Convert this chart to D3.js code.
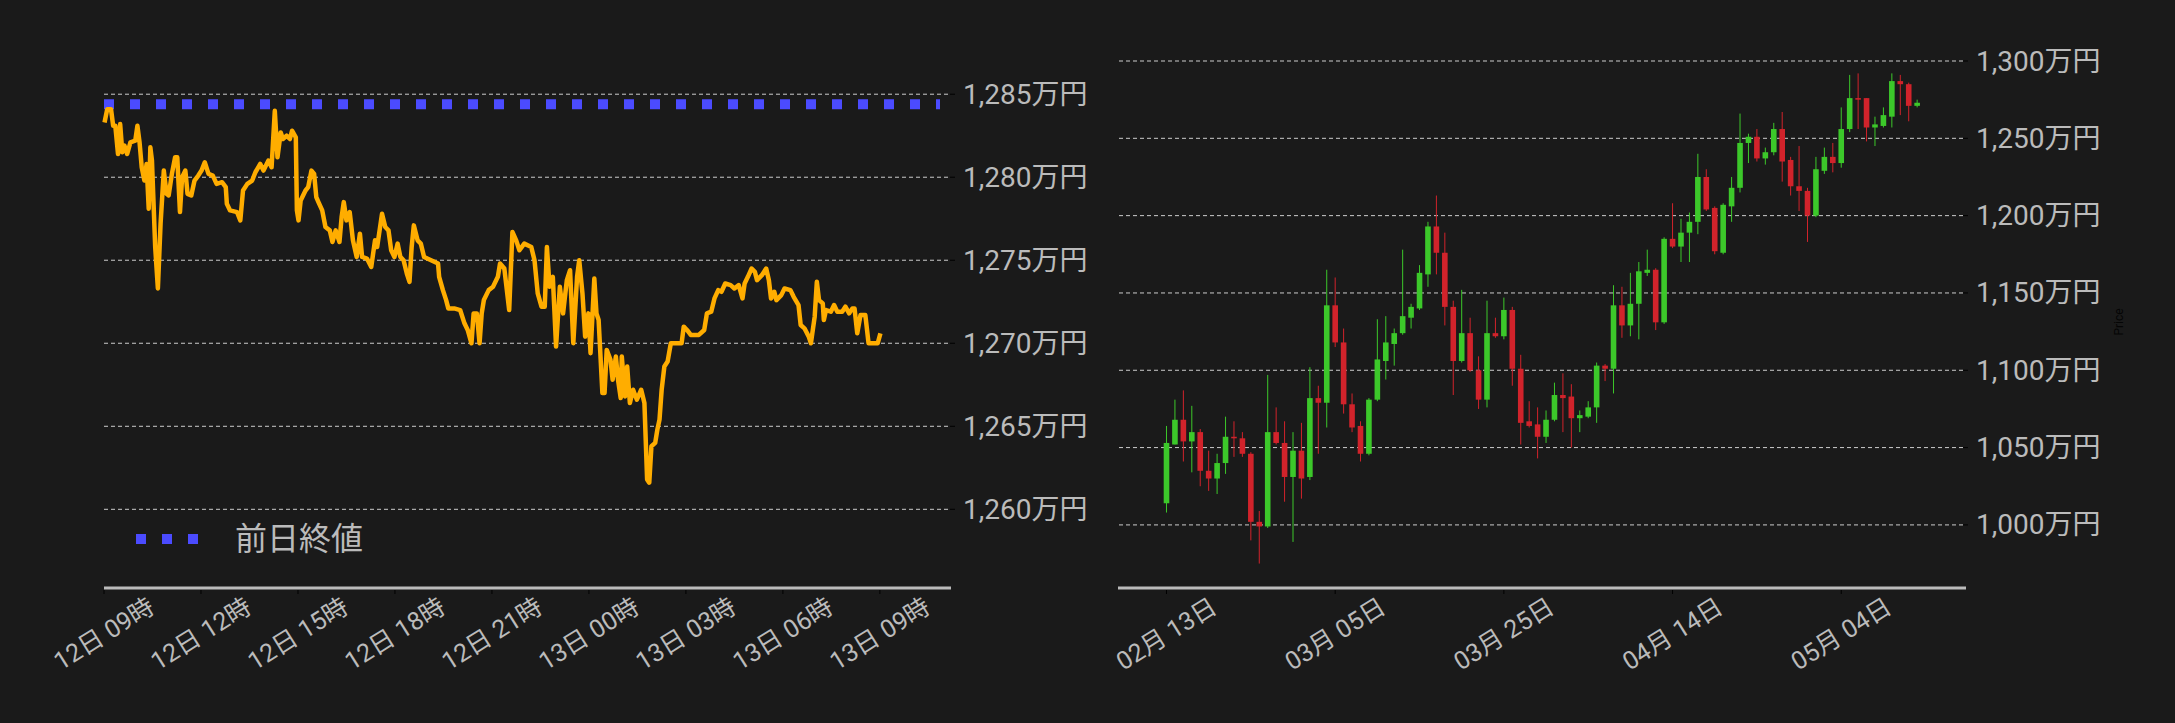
<!DOCTYPE html>
<html>
<head>
<meta charset="utf-8">
<script src="https://cdn.jsdelivr.net/npm/d3@7"></script>
<style>
  body { margin: 0; background: #1a1a1a; }
  svg { display: block; }
  text { font-family: Roboto, "Noto Sans CJK JP", sans-serif; fill: #bbbbbb; }
</style>
</head>
<body>
<svg id="chart" width="2175" height="723"></svg>
<script>
// intraday price (minutes after 12日 09:00, 万円)
var lineMinutes = [1,6,13,17,21,26,30,34,38,43,49,58,62,66,70,75,79,83,86,89,95,100,105,111,116,120,126,132,136,141,145,151,155,162,168,175,181,187,194,202,209,219,226,228,234,247,253,258,266,275,281,290,296,305,311,317,322,328,332,339,345,349,356,358,361,365,374,379,385,390,394,398,405,411,419,424,430,437,441,445,450,456,462,469,475,479,488,496,503,507,516,522,528,533,539,545,550,556,562,567,571,575,582,588,594,607,620,622,629,635,639,650,661,669,675,682,686,692,697,701,705,714,722,731,735,743,752,758,765,771,780,793,799,805,812,818,822,827,833,839,846,852,859,865,871,878,882,888,893,899,903,910,914,918,925,929,933,940,944,950,954,959,961,967,971,976,982,989,997,1003,1008,1012,1016,1023,1027,1031,1035,1040,1046,1052,1072,1076,1082,1089,1104,1114,1119,1127,1133,1140,1146,1153,1163,1170,1178,1185,1189,1195,1202,1208,1212,1221,1229,1234,1238,1244,1248,1257,1263,1274,1280,1289,1293,1300,1308,1312,1319,1323,1327,1334,1336,1340,1349,1355,1361,1370,1376,1383,1389,1393,1398,1404,1413,1419,1436,1441];
var linePrices = [1283.3,1284.1,1284.1,1283.1,1283.1,1281.4,1283.2,1281.5,1281.9,1281.4,1282.1,1282.2,1283.1,1282.1,1280.6,1279.8,1280.8,1278.1,1281.8,1281.0,1275.8,1273.3,1277.2,1280.4,1279.0,1278.9,1280.2,1281.2,1281.2,1277.9,1280.0,1280.4,1279.0,1278.9,1279.8,1280.1,1280.4,1280.9,1280.2,1280.1,1279.6,1279.7,1279.4,1278.4,1278.0,1277.9,1277.4,1279.2,1279.6,1279.8,1280.3,1280.8,1280.4,1281.0,1280.6,1284.0,1281.2,1282.7,1282.3,1282.5,1282.3,1282.8,1282.4,1278.0,1277.4,1278.6,1279.2,1279.4,1280.4,1280.2,1278.8,1278.5,1278.0,1277.0,1276.8,1276.1,1276.8,1276.1,1277.6,1278.5,1277.4,1277.9,1276.2,1275.2,1276.6,1275.2,1275.1,1274.6,1276.2,1275.8,1277.8,1277.0,1276.8,1275.6,1275.2,1276.0,1275.2,1275.0,1274.2,1273.7,1275.8,1277.1,1276.2,1276.0,1275.2,1275.0,1274.8,1274.0,1273.2,1272.6,1272.1,1272.1,1272.0,1271.2,1270.8,1270.0,1271.8,1271.8,1270.0,1271.8,1272.6,1273.2,1273.4,1274.0,1274.8,1274.5,1272.0,1276.7,1276.2,1275.6,1276.0,1275.8,1275.0,1273.0,1272.2,1272.2,1275.8,1273.4,1274.0,1269.8,1273.4,1271.8,1273.8,1274.4,1270.0,1274.0,1275.0,1273.0,1270.4,1271.8,1269.4,1273.9,1271.8,1271.4,1267.0,1267.0,1269.6,1269.0,1267.8,1269.2,1267.8,1266.7,1269.2,1266.8,1268.6,1266.4,1267.2,1266.6,1267.2,1266.4,1261.8,1261.6,1263.8,1264.0,1264.8,1265.4,1267.2,1268.6,1268.9,1270.0,1270.0,1271.0,1270.8,1270.5,1270.5,1270.8,1271.8,1271.9,1272.7,1273.2,1273.1,1273.6,1273.5,1273.3,1273.5,1272.7,1273.6,1274.0,1274.5,1274.3,1273.8,1274.1,1274.5,1273.8,1272.7,1273.1,1272.6,1272.9,1273.3,1273.2,1272.8,1272.3,1271.1,1270.9,1270.4,1270.0,1271.6,1273.7,1272.6,1272.4,1271.4,1272.0,1271.9,1272.3,1271.9,1271.9,1272.2,1271.8,1272.1,1272.1,1270.6,1271.7,1271.7,1270.0,1270.0,1270.6];
var prevClose = 1284.4;
var lineTicks = [1260, 1265, 1270, 1275, 1280, 1285];

// daily candles from 2025-02-13 (万円)
var candleOpen  = [1014,1052,1068,1054,1060,1035,1030,1040,1057,1056,1046,1002,999,1060,1053,1031,1048,1031,1082,1079,1142,1118,1078,1064,1046,1081,1106,1117,1124,1134,1140,1162,1193,1176,1141,1106,1124,1100,1081,1124,1122,1139,1101,1067,1065,1057,1068,1084,1083,1069,1070,1076,1103,1101,1142,1129,1143,1163,1165,1131,1185,1180,1189,1196,1225,1205,1176,1206,1218,1247,1251,1237,1241,1256,1236,1219,1216,1200,1229,1238,1234,1256,1276,1276,1257,1258,1264,1287,1285,1271];
var candleHigh  = [1064,1081,1087,1077,1062,1048,1046,1070,1067,1060,1047,1009,1097,1076,1067,1060,1066,1102,1090,1165,1160,1127,1085,1067,1082,1133,1135,1127,1178,1143,1168,1196,1213,1189,1145,1152,1134,1109,1145,1134,1147,1141,1110,1080,1076,1074,1092,1098,1091,1074,1080,1105,1104,1155,1154,1163,1170,1178,1166,1186,1208,1198,1202,1240,1230,1206,1208,1225,1266,1253,1256,1244,1260,1267,1238,1245,1218,1238,1244,1247,1270,1291,1292,1276,1264,1270,1292,1291,1286,1275];
var candleLow   = [1008,1052,1041,1034,1025,1022,1020,1033,1044,1044,990,975,998,1052,1015,989,1017,1029,1046,1063,1115,1072,1060,1041,1045,1080,1094,1103,1123,1127,1139,1154,1162,1129,1084,1105,1099,1075,1076,1121,1120,1090,1052,1063,1043,1053,1067,1060,1050,1060,1069,1066,1093,1085,1121,1122,1120,1161,1126,1130,1179,1170,1170,1188,1203,1175,1175,1196,1215,1234,1235,1233,1239,1222,1213,1203,1183,1199,1227,1228,1231,1254,1256,1248,1245,1257,1257,1265,1261,1270];
var candleClose = [1053,1068,1054,1060,1035,1030,1040,1057,1056,1046,1002,999,1060,1053,1031,1048,1030,1082,1079,1142,1118,1078,1063,1046,1081,1107,1118,1124,1135,1141,1163,1193,1176,1141,1106,1124,1100,1081,1124,1122,1139,1101,1066,1064,1057,1068,1084,1082,1069,1071,1076,1103,1101,1142,1129,1143,1164,1165,1131,1185,1180,1189,1196,1225,1204,1177,1207,1218,1247,1251,1237,1241,1256,1235,1219,1216,1200,1230,1238,1234,1256,1276,1275,1257,1259,1265,1287,1285,1271,1273];
var candleTicks = [1000, 1050, 1100, 1150, 1200, 1250, 1300];
var dateTicks = ['2025-02-13', '2025-03-05', '2025-03-25', '2025-04-14', '2025-05-04'];

var svg = d3.select('#chart');
var yen = function(v) { return d3.format(',')(v) + '万円'; };

function drawGrid(g, y, ticks, x0, x1) {
  ticks.forEach(function(t) {
    g.append('line')
      .attr('x1', x0).attr('x2', x1)
      .attr('y1', y(t)).attr('y2', y(t))
      .attr('stroke', '#cccccc').attr('stroke-width', 1)
      .attr('stroke-dasharray', '4,3');
    g.append('line')
      .attr('x1', x1).attr('x2', x1 + 5)
      .attr('y1', y(t)).attr('y2', y(t))
      .attr('stroke', '#000');
    g.append('text')
      .attr('x', x1 + 13).attr('y', y(t))
      .attr('dominant-baseline', 'central')
      .style('font-size', '28px')
      .text(yen(t));
  });
}

function drawXAxis(g, x, ticks, fmt, x0, x1) {
  g.append('line')
    .attr('x1', x0).attr('x2', x1)
    .attr('y1', 588).attr('y2', 588)
    .attr('stroke', '#bbbbbb').attr('stroke-width', 3);
  ticks.forEach(function(t) {
    var tx = x(t);
    g.append('line')
      .attr('x1', tx).attr('x2', tx)
      .attr('y1', 590).attr('y2', 594)
      .attr('stroke', '#000');
    g.append('text')
      .attr('transform', 'translate(' + tx + ',634) rotate(-32)')
      .attr('text-anchor', 'middle')
      .attr('dominant-baseline', 'central')
      .style('font-size', '25px')
      .text(fmt(t));
  });
}

//
// left: intraday line
//
var start = new Date(2025, 4, 12, 9, 0);
var xl = d3.scaleTime()
  .domain([start, d3.timeMinute.offset(start, 1572)])
  .range([104, 951]);
var yl = d3.scaleLinear().domain([1255.2, 1287.0]).range([589, 61]);

var left = svg.append('g');
drawGrid(left, yl, lineTicks, 104, 950);

left.append('line')
  .attr('x1', 104).attr('x2', 940)
  .attr('y1', yl(prevClose)).attr('y2', yl(prevClose))
  .attr('stroke', '#4b4bff').attr('stroke-width', 10)
  .attr('stroke-dasharray', '10,16');

var pts = lineMinutes.map(function(m, i) {
  return [d3.timeMinute.offset(start, m), linePrices[i]];
});
left.append('path')
  .datum(pts)
  .attr('fill', 'none')
  .attr('stroke', '#ffad00')
  .attr('stroke-width', 4.5)
  .attr('stroke-linejoin', 'round')
  .attr('d', d3.line().x(function(d) { return xl(d[0]); }).y(function(d) { return yl(d[1]); }));

var hourTicks = d3.range(0, 9).map(function(i) { return d3.timeHour.offset(start, i * 3); });
drawXAxis(left, xl, hourTicks, d3.timeFormat('%d日 %H時'), 104, 951);

left.append('line')
  .attr('x1', 136).attr('x2', 200)
  .attr('y1', 539).attr('y2', 539)
  .attr('stroke', '#4b4bff').attr('stroke-width', 10)
  .attr('stroke-dasharray', '10,16');
left.append('text')
  .attr('x', 235).attr('y', 539)
  .attr('dominant-baseline', 'central')
  .style('font-size', '32px')
  .text('前日終値');

//
// right: daily candles
//
var parse = d3.timeParse('%Y-%m-%d');
var first = parse('2025-02-13');
var xr = d3.scaleTime()
  .domain([d3.timeHour.offset(first, -138), d3.timeHour.offset(first, 2275)])
  .range([1118, 1966]);
var yr = d3.scaleLinear().domain([959.2, 1300]).range([588, 61]);

var right = svg.append('g');
drawGrid(right, yr, candleTicks, 1119, 1963);

var candles = candleOpen.map(function(o, i) {
  return { date: d3.timeDay.offset(first, i), o: o, h: candleHigh[i], l: candleLow[i], c: candleClose[i] };
});
var cg = right.selectAll('g.candle').data(candles).enter().append('g');
cg.append('line')
  .attr('x1', function(d) { return xr(d.date); })
  .attr('x2', function(d) { return xr(d.date); })
  .attr('y1', function(d) { return yr(d.h); })
  .attr('y2', function(d) { return yr(d.l); })
  .attr('stroke', function(d) { return d.c >= d.o ? '#3cc82a' : '#d1232b'; })
  .attr('stroke-width', 1);
cg.append('rect')
  .attr('x', function(d) { return xr(d.date) - 2.8; })
  .attr('width', 5.6)
  .attr('y', function(d) { return yr(Math.max(d.o, d.c)); })
  .attr('height', function(d) { return Math.max(1.5, Math.abs(yr(d.o) - yr(d.c))); })
  .attr('fill', function(d) { return d.c >= d.o ? '#3cc82a' : '#d1232b'; });

drawXAxis(right, xr, dateTicks.map(parse), d3.timeFormat('%m月 %d日'), 1118, 1966);

right.append('text')
  .attr('transform', 'translate(2123,322) rotate(-90)')
  .attr('text-anchor', 'middle')
  .style('font-size', '12px')
  .style('fill', '#050505')
  .text('Price');
</script>
</body>
</html>
